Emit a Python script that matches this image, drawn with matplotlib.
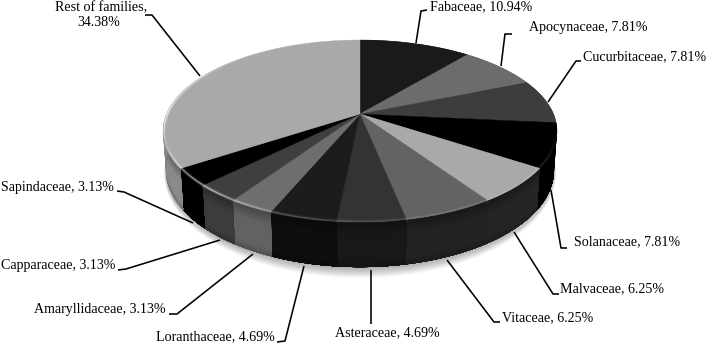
import numpy as np
import matplotlib
matplotlib.use("Agg")
import matplotlib.pyplot as plt
from matplotlib.collections import LineCollection

families = ["Fabaceae", "Apocynaceae", "Cucurbitaceae", "Solanaceae", "Malvaceae", "Vitaceae",
            "Asteraceae", "Loranthaceae", "Amaryllidaceae", "Capparaceae", "Sapindaceae", "Rest of families"]
shares = [10.94, 7.81, 7.81, 7.81, 6.25, 6.25, 4.69, 4.69, 3.13, 3.13, 3.13, 34.38]

top_colors = ["#1a1a1a", "#6c6c6c", "#3d3d3d", "#000000", "#a9a9a9", "#636363",
              "#333333", "#1c1c1c", "#6e6e6e", "#3f3f3f", "#000000", "#a9a9a9"]
side_colors = ["#0e0e0e", "#4c4c4c", "#2a2a2a", "#000000", "#242424", "#222222",
               "#181818", "#0e0e0e", "#626262", "#3c3c3c", "#000000", "#8a8a8a"]

# label text anchors (left x, centre y, in picture pixels)
label_pos = [(430, 7), (529, 28), (583, 57), (574, 242), (560, 289), (502, 318),
             (335, 333), (156, 337), (34, 310), (1, 266), (1, 187)]
leaders = [[(416, 43), (421, 11), (427, 10)],
           [(501, 66), (505, 34), (512, 34)],
           [(548, 102), (576, 61), (581, 61)],
           [(551, 190), (561, 248), (567, 248)],
           [(514, 232), (553, 294), (559, 294)],
           [(447, 260), (494, 322), (500, 322)],
           [(371, 270), (371, 324)],
           [(304, 266), (285, 341), (277, 342)],
           [(253, 254), (177, 314), (169, 314)],
           [(220, 240), (126, 269), (118, 270)],
           [(193, 223), (124, 192), (117, 191)],
           [(200, 76), (152, 15), (145, 15)]]

CX, K = 360.0, 0.1868
TOP_Y0, TOP_A, TOP_B = 114.0, 193.5, 87.8
BOT_Y0, BOT_A, BOT_B = 152.0, 190.6, 93.6
FONT = "Liberation Serif"
FSIZE = 10.1


def project(theta, y0, a, b, r=1.0):
    u, v = r * np.sin(theta), -r * np.cos(theta)
    w = 1 - K * v
    return CX + a * u / w, y0 + b * v / w


def rim(theta, t):
    x0, y0 = project(theta, TOP_Y0, TOP_A, TOP_B)
    x1, y1 = project(theta, BOT_Y0, BOT_A, BOT_B)
    return x0 + (x1 - x0) * t, y0 + (y1 - y0) * t


def shade(t):
    s = 1.0
    if t < 0.3:
        s = 0.7 + 0.3 * (t / 0.3)
    if t > 0.85:
        s = 1 - 0.2 * (t - 0.85) / 0.15
    return s


fig = plt.figure(figsize=(7.07, 3.45), dpi=100)
ax = fig.add_axes([0, 0, 1, 1])
ax.set_xlim(0, 707)
ax.set_ylim(345, 0)
ax.axis("off")

# soft drop shadow, mostly below the pie
full = np.linspace(0, 2 * np.pi, 240)
for grow in np.linspace(8, 0, 12):
    sx, sy = project(full, BOT_Y0 + 1, BOT_A + grow * 0.25, BOT_B + grow)
    ax.fill(sx, sy, color="#000000", alpha=0.028, lw=0, zorder=1)

edges = np.radians(np.concatenate([[0], np.cumsum(shares)]) / sum(shares) * 360)

# sides: painted top-down, each layer reaching the bottom, so no seams appear
strips = np.linspace(0, 1, 25)
for i in range(len(shares)):
    th = np.linspace(edges[i], min(edges[i + 1], np.radians(290)), 70)
    if edges[i] >= np.radians(290):
        continue
    base = np.array(matplotlib.colors.to_rgb(side_colors[i]))
    xb, yb = rim(th, 1.0)
    for t0, t1 in zip(strips[:-1], strips[1:]):
        xa, ya = rim(th, t0)
        col = base * shade((t0 + t1) / 2)
        ax.fill(np.r_[xa, xb[::-1]], np.r_[ya, yb[::-1]], color=col, lw=0, zorder=2)

# top faces
for i in range(len(shares)):
    th = np.linspace(edges[i], edges[i + 1], 70)
    x, y = project(th, TOP_Y0, TOP_A, TOP_B)
    ax.fill(np.r_[CX, x], np.r_[TOP_Y0, y], color=top_colors[i], lw=0.3, ec=top_colors[i], zorder=3)

# bevel highlight along the rim
th = np.linspace(np.radians(95), np.radians(345), 400)
x, y = project(th, TOP_Y0, TOP_A, TOP_B, 0.995)
deg = np.degrees(th)
strength = np.interp(deg, [95, 120, 170, 200, 222, 240, 252, 270, 285, 310, 345],
                     [0.0, 0.10, 0.10, 0.2, 0.6, 0.45, 0.15, 0.85, 0.5, 0.12, 0.0])
pts = np.column_stack([x, y])
segs = np.stack([pts[:-1], pts[1:]], axis=1)
ax.add_collection(LineCollection(segs, colors=[(1, 1, 1, a * 0.3) for a in strength[:-1]],
                                 linewidths=2.6, zorder=4, capstyle="butt"))
ax.add_collection(LineCollection(segs, colors=[(1, 1, 1, a) for a in strength[:-1]],
                                 linewidths=0.8, zorder=4, capstyle="butt"))

# leader lines
for line in leaders:
    lx, ly = zip(*line)
    ax.plot(lx, ly, color="black", lw=1.15, solid_capstyle="butt", zorder=5)

# labels
font = dict(family=FONT, size=FSIZE, color="black", va="center", ha="left")
for name, share, (tx, ty) in zip(families, shares, label_pos):
    ax.text(tx, ty, f"{name}, {share:.2f}%", **font)
ax.text(147, 8, f"{families[-1]},", family=FONT, size=FSIZE, va="center", ha="right")
ax.text(99, 23, f"{shares[-1]:.2f}%", family=FONT, size=FSIZE, va="center", ha="center")

fig.savefig("out.png", dpi=100)
